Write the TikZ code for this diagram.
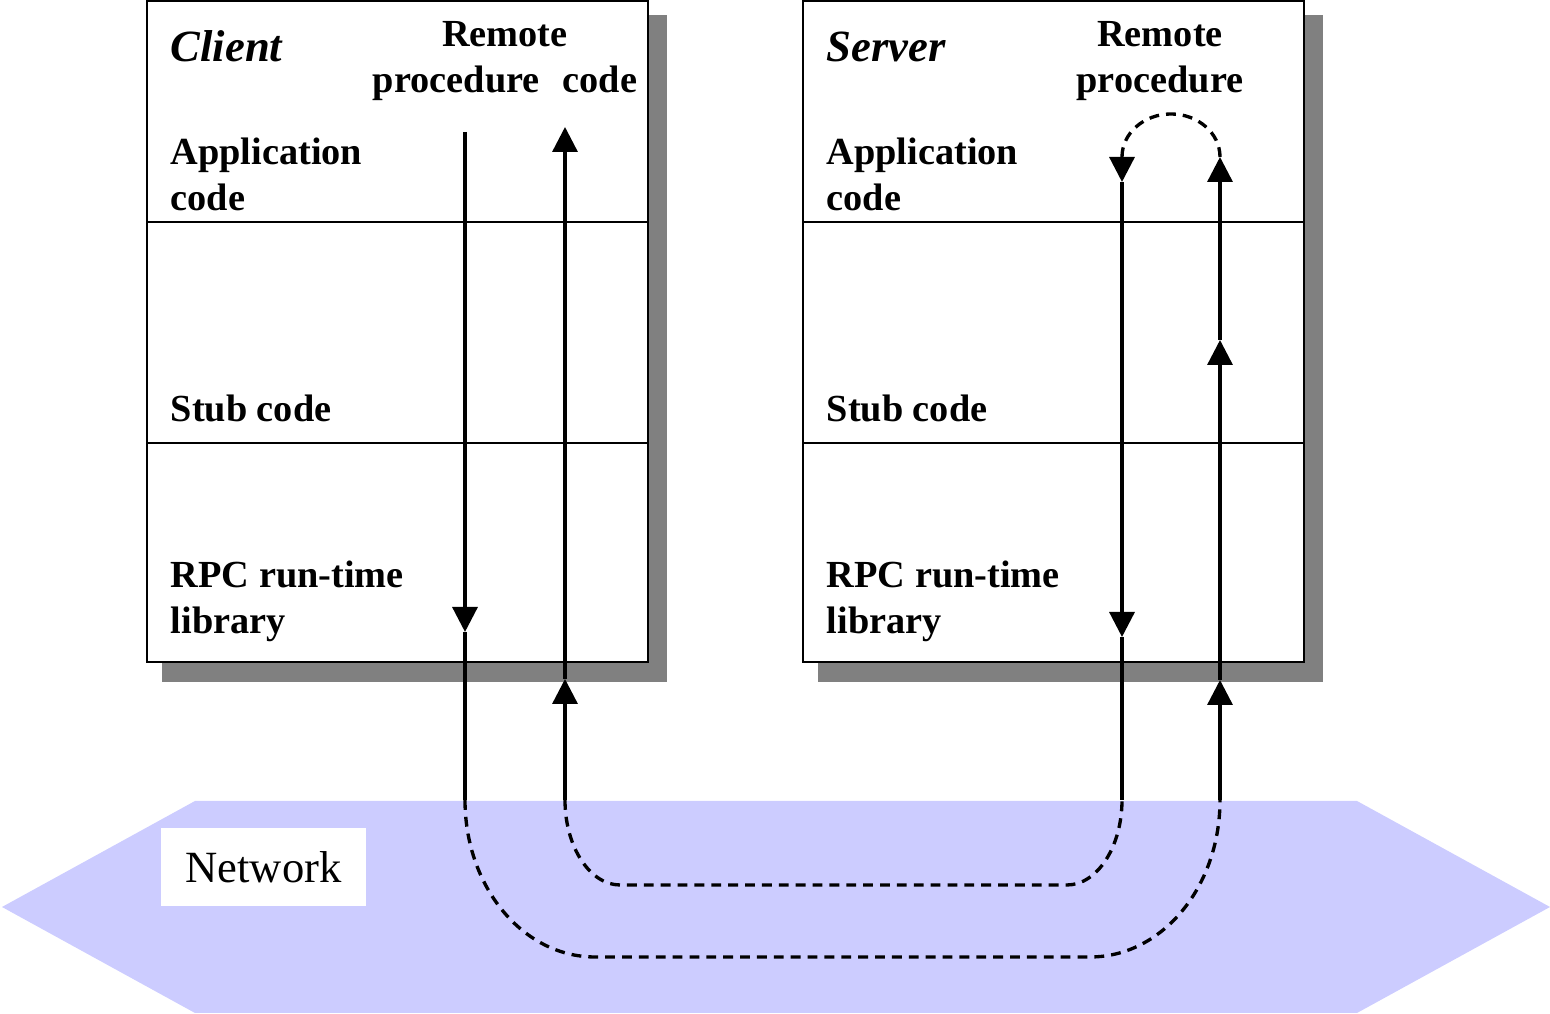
\documentclass[tikz,border=0pt]{standalone}
\usepackage{fontspec}
\setmainfont{Liberation Serif}
\usetikzlibrary{arrows.meta}
\tikzset{
  layer/.style={draw,line width=0.7pt,fill=white},
  sep/.style={line width=0.7pt},
  lbl/.style={inner sep=0pt,anchor=base west,align=left,font=\fontsize{10.9pt}{13.1pt}\selectfont\bfseries},
  side/.style={inner sep=0pt,anchor=base west,font=\fontsize{12.7pt}{15pt}\selectfont\bfseries\itshape},
  call/.style={line width=0.95pt,-{Triangle[width=0.25cm,length=0.25cm]}},
  flow/.style={line width=0.95pt},
  wire/.style={line width=0.95pt,dash pattern=on 2.8pt off 2pt},
}
\begin{document}
\begin{tikzpicture}
\useasboundingbox (0,0) rectangle (15.5,10.14);
% client
\fill[black!50] (1.62,3.32) rectangle (6.67,9.99);
\draw[layer] (1.47,3.52) rectangle (6.48,10.13);
\draw[sep] (1.47,7.92) -- (6.49,7.92);
\draw[sep] (1.47,5.71) -- (6.49,5.71);
\node[side] (client) at (1.70,9.52) {Client};
\node[lbl,align=center,anchor=base] (cproc) at (5.05,9.21) {Remote\\procedure\hspace{0.6em}code};
\node[lbl] (capp) at (1.70,8.03) {Application\\code};
\node[lbl] (cstub) at (1.70,5.92) {Stub code};
\node[lbl] (crpc) at (1.70,3.80) {RPC run-time\\library};
% server
\fill[black!50] (8.18,3.32) rectangle (13.23,9.99);
\draw[layer] (8.03,3.52) rectangle (13.04,10.13);
\draw[sep] (8.03,7.92) -- (13.05,7.92);
\draw[sep] (8.03,5.71) -- (13.05,5.71);
\node[side] (server) at (8.26,9.52) {Server};
\node[lbl,align=center,anchor=base] (sproc) at (11.60,9.21) {Remote\\procedure};
\node[lbl] (sapp) at (8.26,8.03) {Application\\code};
\node[lbl] (sstub) at (8.26,5.92) {Stub code};
\node[lbl] (srpc) at (8.26,3.80) {RPC run-time\\library};
% network
\fill[blue!20] (0.02,1.07) -- (1.95,2.13) -- (13.57,2.13) -- (15.50,1.07) -- (13.57,0.01) -- (1.95,0.01) -- cycle;
\node[fill=white,minimum width=2.05cm,minimum height=0.78cm,font=\fontsize{12.7pt}{15pt}\selectfont] (net) at (2.635,1.47) {Network};
% call path
\coordinate (cd0) at (4.65,8.82);
\coordinate (cd1) at (4.65,3.82);
\coordinate (cd2) at (4.65,2.14);
\coordinate (cu0) at (5.65,2.14);
\coordinate (cu1) at (5.65,3.35);
\coordinate (cu2) at (5.65,8.87);
\coordinate (sd0) at (11.22,8.57);
\coordinate (sd1) at (11.22,8.32);
\coordinate (sd2) at (11.22,3.77);
\coordinate (sd3) at (11.22,2.14);
\coordinate (su0) at (12.20,2.14);
\coordinate (su1) at (12.20,3.34);
\coordinate (su2) at (12.20,6.74);
\coordinate (su3) at (12.20,8.57);
\draw[call] (cd0) -- (cd1);
\draw[flow] (cd1) -- (cd2);
\draw[call] (cu0) -- (cu1);
\draw[call] (cu1) -- (cu2);
\draw[call] (sd0) -- (sd1);
\draw[call] (sd1) -- (sd2);
\draw[flow] (sd2) -- (sd3);
\draw[call] (su0) -- (su1);
\draw[call] (su1) -- (su2);
\draw[call] (su2) -- (su3);
\draw[wire] (su3) arc[start angle=0,end angle=180,x radius=0.49,y radius=0.43];
\draw[wire] (cu0) .. controls +(0,-0.47) and +(-0.30,0) .. (6.20,1.29) -- (10.67,1.29) .. controls +(0.30,0) and +(0,-0.47) .. (sd3);
\draw[wire] (cd2) .. controls +(0,-0.87) and +(-0.72,0) .. (5.95,0.57) -- (10.90,0.57) .. controls +(0.72,0) and +(0,-0.87) .. (su0);
\end{tikzpicture}
\end{document}
